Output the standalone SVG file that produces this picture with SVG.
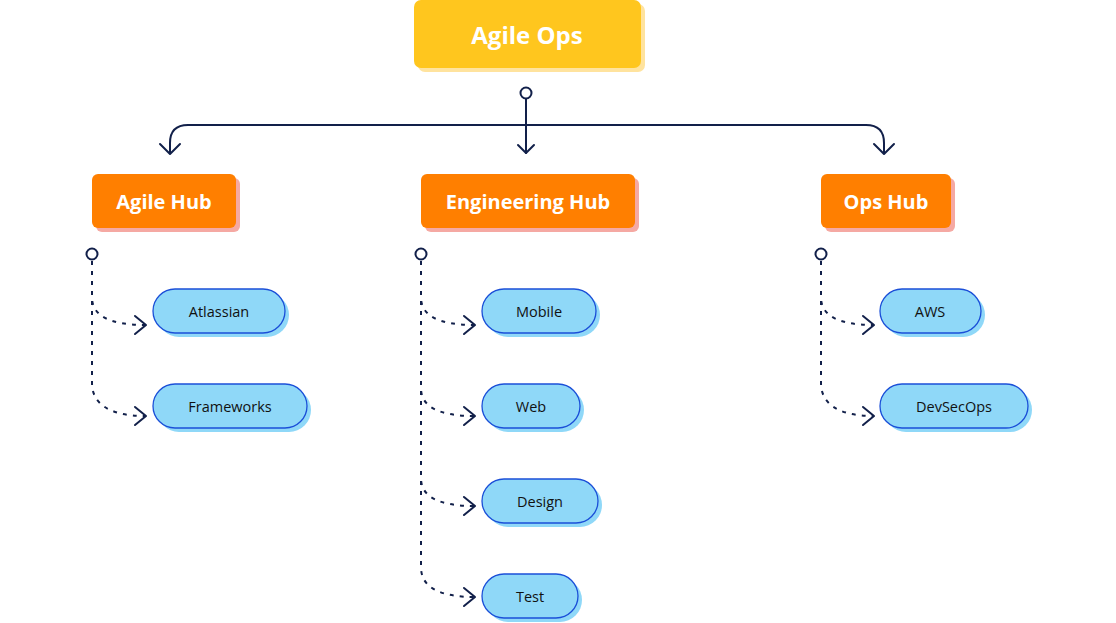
<svg xmlns="http://www.w3.org/2000/svg" width="1116" height="623" viewBox="0 0 1116 623">
<style>
.root{fill:#FFC61E}
.rootsh{fill:#FFE39E}
.hub{fill:#FF7F00}
.hubsh{fill:#F5A9A3}
.leaf{fill:#8FD8F8;stroke:#1B4FD8;stroke-width:1.3}
.leafsh{fill:#8FD8F8}
.t{font-family:"Open Sans","Liberation Sans",sans-serif;text-anchor:middle;dominant-baseline:central}
.tr{fill:#fff;font-weight:700;font-size:24px}
.th{fill:#fff;font-weight:700;font-size:20px}
.tl{fill:#111;font-weight:500;font-size:14.5px}
.solid{fill:none;stroke:#12204A;stroke-width:2;stroke-linecap:round;stroke-linejoin:round}
.dash{fill:none;stroke:#12204A;stroke-width:2;stroke-dasharray:4 6}
.chev{fill:none;stroke:#12204A;stroke-width:2;stroke-linecap:round;stroke-linejoin:round}
.dot{fill:#fff;stroke:#12204A;stroke-width:2}
</style>
<rect width="1116" height="623" fill="#fff"/>
<g id="connectors">
  <path class="solid" d="M526 99 V153"/>
  <path class="solid" d="M518 145 L526 153 L534 145"/>
  <path class="solid" d="M526 125 H188 Q170 125 170 143 V153"/>
  <path class="solid" d="M160 144 L170 154 L180 144"/>
  <path class="solid" d="M526 125 H866 Q884 125 884 143 V153"/>
  <path class="solid" d="M874 144 L884 154 L894 144"/>
  <circle class="dot" cx="526" cy="93" r="5.5"/>

  <path class="dash" d="M92 261 V297 C92 315 108 325 146 325"/>
  <path class="chev" d="M135 316 L146 325 L135 334"/>
  <path class="dash" d="M92 261 V383 C92 403 108 416 146 416"/>
  <path class="chev" d="M135 407 L146 416 L135 425"/>
  <circle class="dot" cx="92" cy="254" r="5.5"/>

  <path class="dash" d="M421 261 V297 C421 315 437 325 475 325"/>
  <path class="chev" d="M464 316 L475 325 L464 334"/>
  <path class="dash" d="M421 261 V388 C421 406 437 416 475 416"/>
  <path class="chev" d="M464 407 L475 416 L464 425"/>
  <path class="dash" d="M421 261 V478 C421 496 437 506 475 506"/>
  <path class="chev" d="M464 497 L475 506 L464 515"/>
  <path class="dash" d="M421 261 V567 C421 586 437 597 475 597"/>
  <path class="chev" d="M464 588 L475 597 L464 606"/>
  <circle class="dot" cx="421" cy="254" r="5.5"/>

  <path class="dash" d="M821 261 V297 C821 315 837 325 874 325"/>
  <path class="chev" d="M863 316 L874 325 L863 334"/>
  <path class="dash" d="M821 261 V383 C821 403 837 416 874 416"/>
  <path class="chev" d="M863 407 L874 416 L863 425"/>
  <circle class="dot" cx="821" cy="254" r="5.5"/>
</g>
<g id="agile-ops">
  <rect class="rootsh" x="418" y="4" width="227" height="68" rx="7"/>
  <rect class="root" x="414" y="0" width="227" height="68" rx="7"/>
  <text class="t tr" x="527" y="34">Agile Ops</text>
</g>
<g id="agile-hub">
  <rect class="hubsh" x="96" y="178" width="144" height="54" rx="6"/>
  <rect class="hub" x="92" y="174" width="144" height="54" rx="6"/>
  <text class="t th" x="164" y="201">Agile Hub</text>
</g>
<g id="engineering-hub">
  <rect class="hubsh" x="425" y="178" width="214" height="54" rx="6"/>
  <rect class="hub" x="421" y="174" width="214" height="54" rx="6"/>
  <text class="t th" x="528" y="201">Engineering Hub</text>
</g>
<g id="ops-hub">
  <rect class="hubsh" x="825" y="178" width="130" height="54" rx="6"/>
  <rect class="hub" x="821" y="174" width="130" height="54" rx="6"/>
  <text class="t th" x="886" y="201">Ops Hub</text>
</g>
<g id="atlassian">
  <rect class="leafsh" x="157" y="293" width="132" height="44" rx="22"/>
  <rect class="leaf" x="153" y="289" width="132" height="44" rx="22"/>
  <text class="t tl" x="219" y="311">Atlassian</text>
</g>
<g id="frameworks">
  <rect class="leafsh" x="157" y="388" width="154" height="44" rx="22"/>
  <rect class="leaf" x="153" y="384" width="154" height="44" rx="22"/>
  <text class="t tl" x="230" y="406">Frameworks</text>
</g>
<g id="mobile">
  <rect class="leafsh" x="486" y="293" width="114" height="44" rx="22"/>
  <rect class="leaf" x="482" y="289" width="114" height="44" rx="22"/>
  <text class="t tl" x="539" y="311">Mobile</text>
</g>
<g id="web">
  <rect class="leafsh" x="486" y="388" width="98" height="44" rx="22"/>
  <rect class="leaf" x="482" y="384" width="98" height="44" rx="22"/>
  <text class="t tl" x="531" y="406">Web</text>
</g>
<g id="design">
  <rect class="leafsh" x="486" y="483" width="116" height="44" rx="22"/>
  <rect class="leaf" x="482" y="479" width="116" height="44" rx="22"/>
  <text class="t tl" x="540" y="501">Design</text>
</g>
<g id="test">
  <rect class="leafsh" x="486" y="578" width="96" height="44" rx="22"/>
  <rect class="leaf" x="482" y="574" width="96" height="44" rx="22"/>
  <text class="t tl" x="530" y="596">Test</text>
</g>
<g id="aws">
  <rect class="leafsh" x="884" y="293" width="101" height="44" rx="22"/>
  <rect class="leaf" x="880" y="289" width="101" height="44" rx="22"/>
  <text class="t tl" x="930" y="311">AWS</text>
</g>
<g id="devsecops">
  <rect class="leafsh" x="884" y="388" width="148" height="44" rx="22"/>
  <rect class="leaf" x="880" y="384" width="148" height="44" rx="22"/>
  <text class="t tl" x="954" y="406">DevSecOps</text>
</g>
</svg>
